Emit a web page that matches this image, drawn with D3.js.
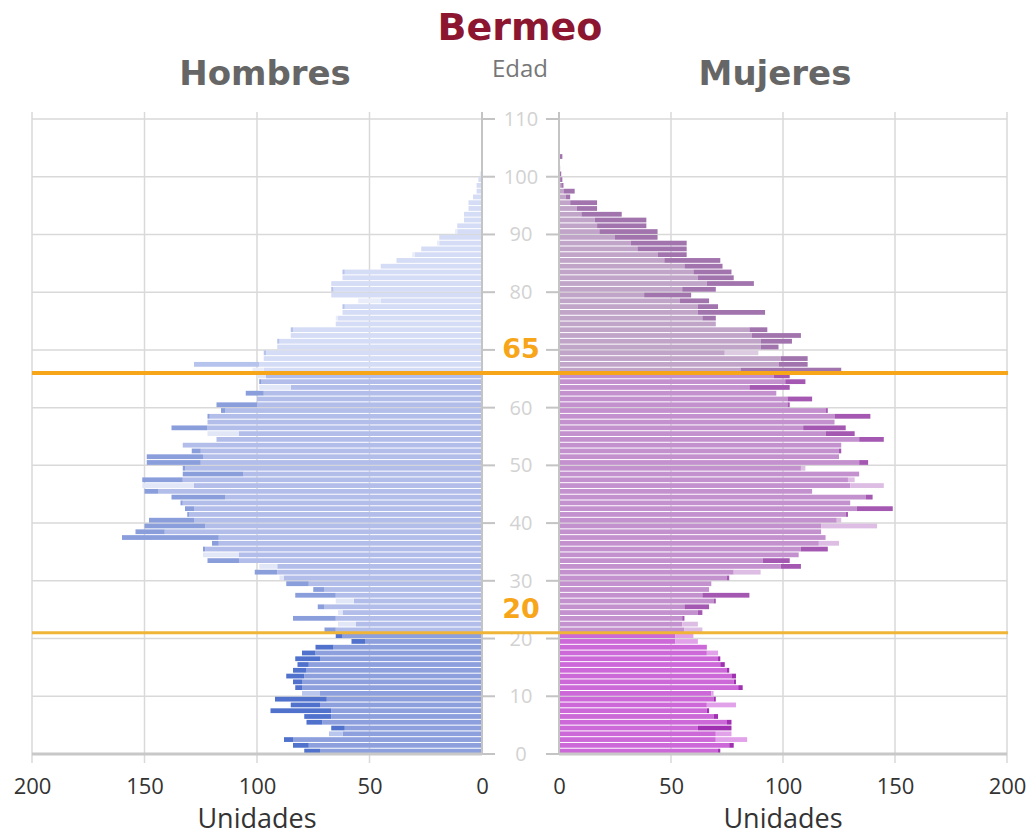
<!DOCTYPE html>
<html>
<head>
<meta charset="utf-8">
<script src="https://cdn.jsdelivr.net/npm/d3@7"></script>
<style>
    body { margin: 0; background: #fff; }
    svg text { font-family: "Open Sans", "Noto Sans", sans-serif; }
    .titulo { font-family: "DejaVu Sans", Verdana, sans-serif !important; font-weight: bold; }
</style>
</head>
<body>
<div id="chart"></div>
<script>

// edades 0..103, dos series por sexo (A = serie oscura, B = serie clara)
var edades = d3.range(0, 104);

var hombresA = [79, 84, 88, 62, 67, 78, 79, 94, 85, 92,
    72, 83, 84, 87, 84, 82, 83, 80, 74, 58,
    65, 70, 56, 84, 62, 73, 57, 83, 75, 87,
    88, 101, 91, 122, 108, 124, 120, 160, 154, 150,
    148, 131, 132, 134, 138, 150, 128, 151, 133, 133,
    149, 149, 129, 133, 118, 108, 138, 122, 122, 116,
    118, 100, 105, 85, 99, 96, 97, 128, 97, 97,
    91, 91, 85, 85, 65, 64, 62, 62, 45, 67,
    67, 67, 62, 62, 45, 38, 30, 27, 19, 19,
    11, 11, 8, 8, 6, 6, 4, 2.4, 2.4, 1.6,
    0, 0, 0, 0];

var hombresB = [72, 77, 84, 68, 61, 71, 67, 67, 72, 69,
    80, 80, 80, 79, 78, 77, 72, 74, 66, 52,
    62, 65, 64, 65, 64, 70, 65, 65, 70, 77,
    90, 91, 99, 108, 124, 123, 117, 117, 141, 123,
    128, 130, 128, 133, 114, 144, 151, 133, 106, 132,
    125, 124, 125, 133, 118, 122, 122, 122, 121, 114,
    100, 100, 97, 99, 98, 100, 102, 99, 97, 96,
    91, 90, 85, 84, 65, 65, 62, 61, 55, 67,
    66, 67, 62, 61, 45, 38, 31, 27, 20, 19,
    12, 11, 8, 8, 6, 6, 4, 2.4, 2.4, 1.6,
    1, 0, 0, 0];

var mujeresA = [72, 78, 70, 70, 77, 77, 71, 67, 66, 70,
    68, 82, 79, 79, 76, 74, 72, 66, 66, 52,
    52, 56, 55, 56, 64, 67, 70, 85, 67, 68,
    76, 78, 108, 103, 107, 120, 116, 119, 117, 117,
    124, 129, 149, 130, 140, 113, 130, 129, 134, 108,
    138, 125, 126, 126, 145, 132, 128, 123, 139, 120,
    103, 113, 97, 103, 110, 103, 126, 111, 111, 74,
    98, 104, 108, 93, 70, 70, 92, 71, 67, 59,
    70, 87, 78, 77, 73, 72, 57, 57, 57, 44,
    44, 39, 39, 28, 17, 17, 5, 7, 2, 1.5,
    1, 0.5, 0, 1.5];

var mujeresB = [71, 76, 84, 77, 62, 75, 69, 66, 79, 69,
    69, 80, 78, 77, 75, 72, 71, 71, 66, 62,
    60, 64, 62, 55, 62, 56, 69, 64, 67, 68,
    75, 90, 99, 91, 107, 108, 125, 119, 117, 142,
    126, 128, 133, 130, 137, 113, 145, 132, 134, 110,
    134, 125, 125, 126, 134, 119, 109, 123, 123, 119,
    102, 102, 97, 85, 101, 96, 81, 98, 99, 89,
    90, 90, 86, 85, 70, 64, 62, 62, 54, 38,
    55, 66, 62, 60, 56, 47, 44, 35, 32, 25,
    18, 17, 16, 10, 8, 5, 3, 2, 1, 0.5,
    0, 0, 0, 0];

var ticksEdad = d3.range(0, 111, 10);
var ticksUnidades = [0, 50, 100, 150, 200];
var limites = [21, 66];
var etiquetasLimite = ["20", "65"];

window.onload = function() {

    var width = 1036,
        height = 836;

    var svg = d3.select("#chart").append("svg")
        .attr("width", width)
        .attr("height", height);

    var y = d3.scaleLinear().domain([0, 110]).range([754, 119]);
    var xLeft = d3.scaleLinear().domain([0, 200]).range([482, 32]),
        xRight = d3.scaleLinear().domain([0, 200]).range([559, 1007]);

    // [comun, oscura, clara] por tramo de edad
    var colores = {
        hombres: {
            joven: ["#8da0dd", "#5072cd", "#b9c6ee"],
            adulto: ["#b2bee9", "#8a9edc", "#e2e7f8"],
            mayor: ["#d5dcf5", "#b6c3ec", "#e9edfa"]
        },
        mujeres: {
            joven: ["#cc68d7", "#a030b1", "#e2a2e9"],
            adulto: ["#c391cd", "#a558b2", "#ddbde3"],
            mayor: ["#c0a5c9", "#a274ae", "#dccbe1"]
        }
    };

    function tramo(e) {
        if (e < limites[0]) return "joven";
        if (e >= limites[1]) return "mayor";
        return "adulto";
    }

    // grid
    function grid(x) {
        var g = svg.append("g").attr("class", "grid");
        g.selectAll("line.v")
            .data(ticksUnidades.filter(function(d) { return d > 0; }))
            .enter().append("line")
            .attr("x1", function(d) { return x(d); })
            .attr("x2", function(d) { return x(d); })
            .attr("y1", 112)
            .attr("y2", 763)
            .attr("stroke", "#d9d9d9")
            .attr("stroke-width", 1.5);
        g.selectAll("line.h")
            .data(ticksEdad.filter(function(d) { return d > 0; }))
            .enter().append("line")
            .attr("x1", x(0))
            .attr("x2", x(200))
            .attr("y1", function(d) { return y(d); })
            .attr("y2", function(d) { return y(d); })
            .attr("stroke", "#d9d9d9")
            .attr("stroke-width", 1.5);
    }
    grid(xLeft);
    grid(xRight);

    function piramide(x, serieA, serieB, lado) {
        var filas = edades.map(function(e) {
            return {edad: e, a: serieA[e], b: serieB[e]};
        });
        var g = svg.append("g").attr("class", lado);
        var alto = function(d) { return y(d.edad) - y(d.edad + 1) - 1; };

        g.selectAll("rect.comun")
            .data(filas)
            .enter().append("rect")
            .attr("x", function(d) { return Math.min(x(0), x(Math.min(d.a, d.b))); })
            .attr("width", function(d) { return Math.abs(x(Math.min(d.a, d.b)) - x(0)); })
            .attr("y", function(d) { return y(d.edad + 1) + 0.5; })
            .attr("height", alto)
            .attr("fill", function(d) { return colores[lado][tramo(d.edad)][0]; });

        g.selectAll("rect.extra")
            .data(filas.filter(function(d) { return d.a !== d.b; }))
            .enter().append("rect")
            .attr("x", function(d) { return Math.min(x(d.a), x(d.b)); })
            .attr("width", function(d) { return Math.abs(x(d.a) - x(d.b)); })
            .attr("y", function(d) { return y(d.edad + 1) + 0.5; })
            .attr("height", alto)
            .attr("fill", function(d) {
                return colores[lado][tramo(d.edad)][d.a > d.b ? 1 : 2];
            });
    }
    piramide(xLeft, hombresA, hombresB, "hombres");
    piramide(xRight, mujeresA, mujeresB, "mujeres");

    // ejes centrales
    svg.append("line")
        .attr("x1", xLeft(0)).attr("x2", xLeft(0))
        .attr("y1", 112).attr("y2", y(0))
        .attr("stroke", "#c4c4c4").attr("stroke-width", 2);
    svg.append("line")
        .attr("x1", xRight(0)).attr("x2", xRight(0))
        .attr("y1", 112).attr("y2", y(0))
        .attr("stroke", "#c4c4c4").attr("stroke-width", 2);

    var ticks = svg.append("g").attr("class", "edad");
    ticks.selectAll("line.l")
        .data(ticksEdad)
        .enter().append("line")
        .attr("x1", xLeft(0)).attr("x2", xLeft(0) + 13)
        .attr("y1", function(d) { return y(d); })
        .attr("y2", function(d) { return y(d); })
        .attr("stroke", "#c4c4c4").attr("stroke-width", 2);
    ticks.selectAll("line.r")
        .data(ticksEdad)
        .enter().append("line")
        .attr("x1", xRight(0) - 13).attr("x2", xRight(0))
        .attr("y1", function(d) { return y(d); })
        .attr("y2", function(d) { return y(d); })
        .attr("stroke", "#c4c4c4").attr("stroke-width", 2);
    // la etiqueta 70 queda tapada por el "65" naranja
    ticks.selectAll("text")
        .data(ticksEdad.filter(function(d) { return d !== 70; }))
        .enter().append("text")
        .attr("x", 521)
        .attr("y", function(d) { return y(d) + 7; })
        .attr("text-anchor", "middle")
        .style("font-size", "20px")
        .style("fill", "#d2d2d2")
        .text(function(d) { return d; });

    // eje inferior
    [xLeft, xRight].forEach(function(x) {
        svg.append("line")
            .attr("x1", x(0)).attr("x2", x(200))
            .attr("y1", y(0)).attr("y2", y(0))
            .attr("stroke", "#c8c8c8").attr("stroke-width", 3);

        var eje = svg.append("g")
            .attr("transform", "translate(0," + y(0) + ")")
            .call(d3.axisBottom(x).tickValues(ticksUnidades).tickSize(0).tickPadding(24));
        eje.select(".domain").remove();
        eje.selectAll("text")
            .style("font-size", "22px")
            .style("font-family", "'Open Sans', sans-serif")
            .style("fill", "#333");

        svg.append("text")
            .attr("x", (x(0) + x(200)) / 2)
            .attr("y", 828)
            .attr("text-anchor", "middle")
            .style("font-size", "27px")
            .style("fill", "#333")
            .text("Unidades");
    });

    // lineas de 20 y 65
    svg.selectAll("line.limite")
        .data(limites)
        .enter().append("line")
        .attr("x1", 32).attr("x2", 1008)
        .attr("y1", function(d) { return y(d); })
        .attr("y2", function(d) { return y(d); })
        .attr("stroke", function(d, i) { return i === 0 ? "#f0b437" : "#f7a519"; })
        .attr("stroke-width", function(d, i) { return i === 0 ? 3 : 4; });

    svg.selectAll("text.limite")
        .data(limites)
        .enter().append("text")
        .attr("class", "titulo")
        .attr("x", 521)
        .attr("y", function(d) { return y(d) - 15; })
        .attr("text-anchor", "middle")
        .style("font-size", "27px")
        .style("fill", "#f7a519")
        .text(function(d, i) { return etiquetasLimite[i]; });

    // titulos
    svg.append("text")
        .attr("class", "titulo")
        .attr("x", 520).attr("y", 40)
        .attr("text-anchor", "middle")
        .style("font-size", "38px")
        .style("fill", "#8c1530")
        .text("Bermeo");
    svg.append("text")
        .attr("class", "titulo")
        .attr("x", 265).attr("y", 85)
        .attr("text-anchor", "middle")
        .style("font-size", "34px")
        .style("fill", "#666")
        .text("Hombres");
    svg.append("text")
        .attr("class", "titulo")
        .attr("x", 775).attr("y", 85)
        .attr("text-anchor", "middle")
        .style("font-size", "34px")
        .style("fill", "#666")
        .text("Mujeres");
    svg.append("text")
        .attr("x", 520).attr("y", 77)
        .attr("text-anchor", "middle")
        .style("font-size", "24px")
        .style("fill", "#777")
        .text("Edad");
};
</script>
</body>
</html>
